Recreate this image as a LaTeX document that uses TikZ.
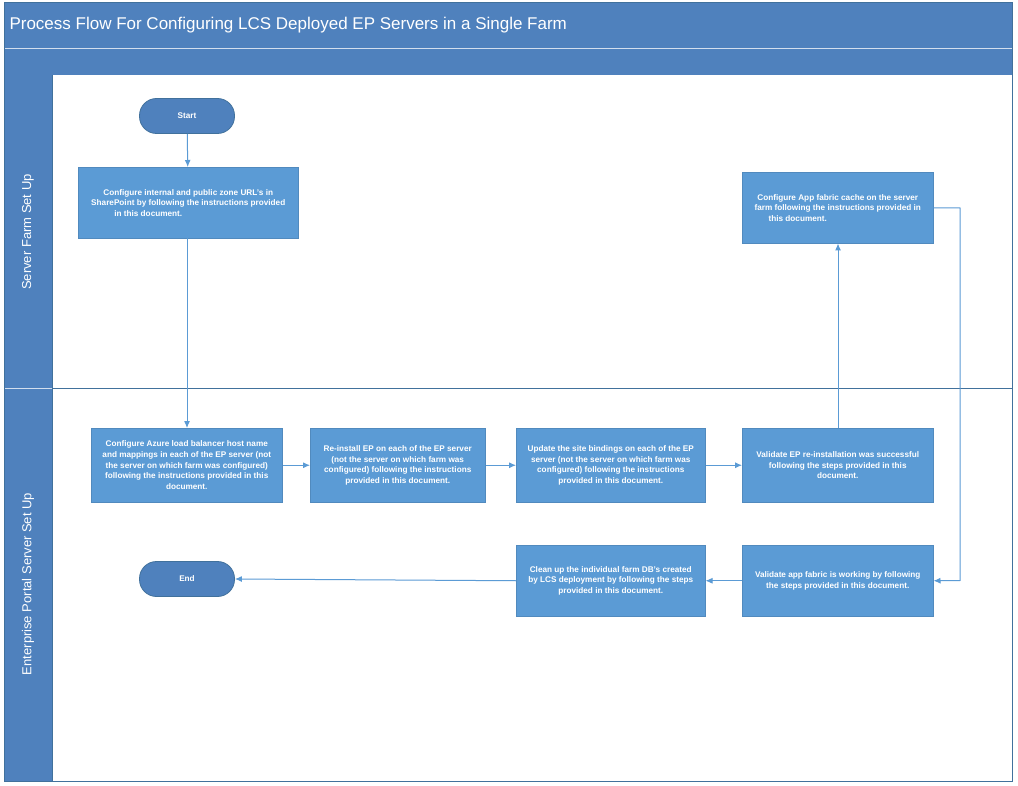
\documentclass[tikz,border=0pt]{standalone}
\usepackage{fontspec}
\setmainfont{Liberation Sans}
\usetikzlibrary{arrows.meta}
\definecolor{band}{HTML}{4F81BD}
\definecolor{bx}{HTML}{5B9BD5}
\definecolor{bxd}{HTML}{41719C}
\definecolor{ln}{HTML}{5B9BD5}
\begin{document}
\begin{tikzpicture}[x=1pt,y=-1pt,
  box/.style={draw=bxd!40!bx,line width=0.5pt,fill=bx,text=white,font=\fontsize{8.2}{10.6}\selectfont\bfseries,align=center,inner sep=2pt,anchor=north west},
  term/.style={draw=bxd,line width=0.8pt,fill=band,text=white,rounded corners=17pt,minimum width=95pt,minimum height=35pt,font=\fontsize{8.2}{10}\selectfont\bfseries},
  arr/.style={draw=ln,line width=1pt,-{Latex[length=7pt,width=6pt]}},
  lane/.style={text=white,font=\fontsize{13}{15}\selectfont,rotate=90}]
\useasboundingbox (0,0) rectangle (1018,786);
\fill[white] (0,0) rectangle (1018,786);
% bands
\fill[band] (4,2) rectangle (1012,75);
\draw[white!75!band,line width=0.8pt] (4,48) -- (1012,48);
\node[anchor=west,text=white,font=\fontsize{17}{20}\selectfont] (title) at (6,25) {Process Flow For Configuring LCS Deployed EP Servers in a Single Farm};
\fill[band] (4,75) rectangle (52,781);
\draw[white!75!band,line width=0.8pt] (4,388) -- (52,388);
\draw[bxd,line width=0.8pt] (4,2) rectangle (1012,781);
\draw[bxd,line width=0.8pt] (52,75) -- (52,781);
\draw[bxd,line width=0.8pt] (52,388) -- (1012,388);
\node[lane] (l1) at (28,232) {Server Farm Set Up};
\node[lane] (l2) at (28,584) {Enterprise Portal Server Set Up};
% nodes
\node[term] (start) at (187,116) {Start};
\node[term] (end) at (187,579) {End};
\node[box,minimum width=220pt,minimum height=71pt] (b1) at (78,167) {Configure internal and public zone URL's in\\SharePoint by following the instructions provided\\in this document.\hspace*{80pt}};
\node[box,minimum width=191pt,minimum height=71pt] (af) at (742,172) {Configure App fabric cache on the server\\farm following the instructions provided in\\this document.\hspace*{80pt}};
\node[box,minimum width=191pt,minimum height=74pt] (a) at (91,428) {Configure Azure load balancer host name\\and mappings in each of the EP server (not\\the server on which farm was configured)\\following the instructions provided in this\\document.};
\node[box,minimum width=175pt,minimum height=74pt] (b) at (310,428) {Re-install EP on each of the EP server\\(not the server on which farm was\\configured) following the instructions\\provided in this document.};
\node[box,minimum width=189pt,minimum height=74pt] (c) at (516,428) {Update the site bindings on each of the EP\\server (not the server on which farm was\\configured) following the instructions\\provided in this document.};
\node[box,minimum width=191pt,minimum height=74pt] (d) at (742,428) {Validate EP re-installation was successful\\following the steps provided in this\\document.};
\node[box,minimum width=189pt,minimum height=71pt] (cl) at (516,545) {Clean up the individual farm DB's created\\by LCS deployment by following the steps\\provided in this document.};
\node[box,minimum width=191pt,minimum height=71pt] (va) at (742,545) {Validate app fabric is working by following\\the steps provided in this document.};
\coordinate (t1) at (960,208);
\coordinate (t2) at (960,580.5);
% arrows
\draw[arr] (start) -- (b1);
\draw[arr] (b1.south -| start) -- (a.north -| start);
\draw[arr] (a) -- (b);
\draw[arr] (b) -- (c);
\draw[arr] (c) -- (d);
\draw[arr] (d.north -| 838,0) -- (af.south -| 838,0);
\draw[arr] (af.east) -- (t1) -- (t2) -- (va.east);
\draw[arr] (va) -- (cl);
\draw[arr] (cl.west) -- (end.east);
\end{tikzpicture}
\end{document}
